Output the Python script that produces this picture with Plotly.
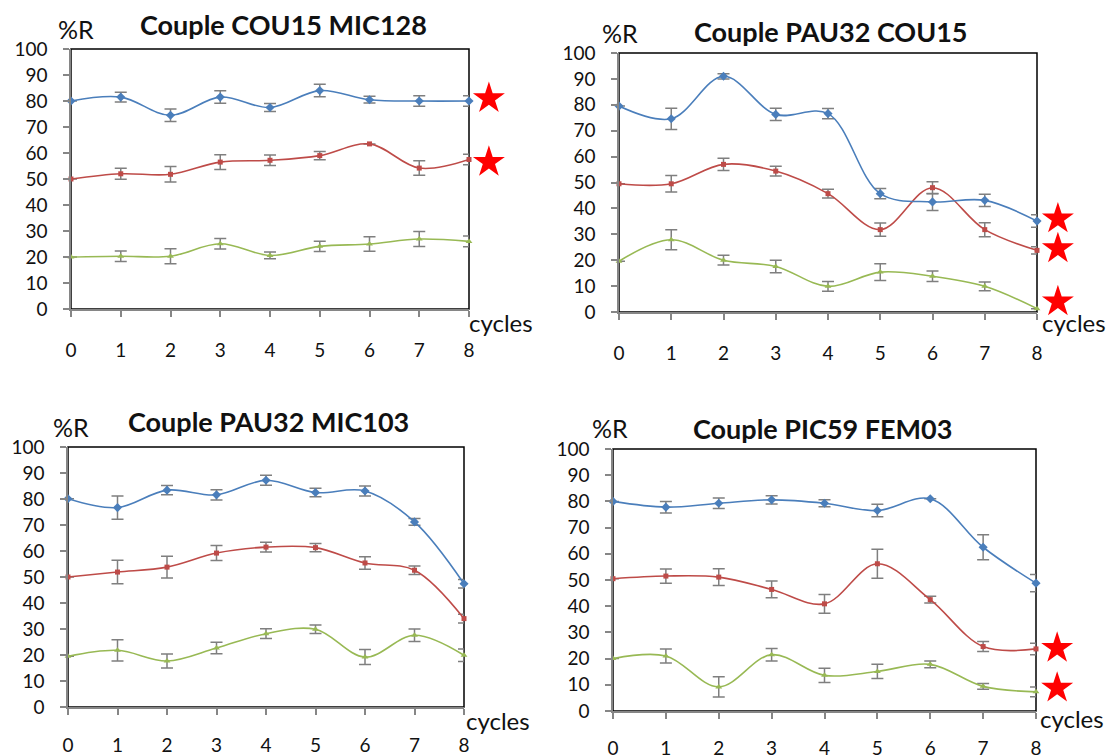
import plotly.graph_objects as go

W, H = 1115, 755

cycles = [0, 1, 2, 3, 4, 5, 6, 7, 8]
y_ticks = [0, 10, 20, 30, 40, 50, 60, 70, 80, 90, 100]

titles = ["Couple COU15 MIC128", "Couple PAU32 COU15", "Couple PAU32 MIC103", "Couple PIC59 FEM03"]

# Panel 1: COU15 MIC128
p1_blue = [80, 81.5, 74.5, 81.5, 77.5, 84, 80.5, 80, 80]
p1_blue_err = [0, 1.9, 2.4, 2.4, 1.5, 2.4, 1.3, 2, 2]
p1_red = [50, 52, 51.8, 56.5, 57.2, 59, 63.5, 54.2, 57.5]
p1_red_err = [0, 2.1, 3, 2.8, 2, 1.6, 0, 2.8, 2]
p1_green = [20, 20.3, 20.3, 25.1, 20.6, 24.1, 25, 26.9, 26]
p1_green_err = [0, 2, 2.9, 2, 1.3, 2, 2.8, 2.9, 2.1]
p1_stars = [81, 56.5]

# Panel 2: PAU32 COU15
p2_blue = [79.5, 74.6, 91, 76.3, 76.6, 45.7, 42.5, 43.1, 35.1]
p2_blue_err = [0, 4.1, 1, 2.4, 2, 2, 3.3, 2.4, 2.4]
p2_red = [49.5, 49.5, 57, 54.4, 45.7, 31.8, 48, 31.8, 23.8]
p2_red_err = [0, 3.2, 2.4, 1.9, 1.7, 2.6, 2.3, 2.7, 1.4]
p2_green = [19.6, 27.9, 20, 17.6, 9.9, 15.4, 13.8, 9.9, 1.3]
p2_green_err = [0, 3.9, 1.9, 2.4, 1.9, 3.2, 2, 1.7, 0]
p2_stars = [36, 24.5, 4]

# Panel 3: PAU32 MIC103
p3_blue = [80.1, 76.7, 83.4, 81.6, 87.2, 82.5, 83.1, 71.2, 47.4]
p3_blue_err = [0, 4.5, 1.8, 2, 1.9, 1.6, 1.9, 1.3, 1.6]
p3_red = [50, 51.9, 53.8, 59.2, 61.5, 61.3, 55.4, 52.6, 34]
p3_red_err = [0, 4.5, 4.2, 2.9, 1.9, 1.6, 2.4, 1.6, 1.7]
p3_green = [19.5, 21.8, 17.7, 22.7, 28.2, 29.9, 19.2, 27.6, 19.9]
p3_green_err = [0, 4.1, 2.7, 2.2, 1.9, 1.6, 2.9, 2.4, 2.4]
p3_stars = []

# Panel 4: PIC59 FEM03
p4_blue = [80, 77.8, 79.3, 80.6, 79.3, 76.5, 81, 62.5, 48.8]
p4_blue_err = [0, 2.2, 2, 1.6, 1.3, 2.4, 0, 4.8, 3.3]
p4_red = [50.5, 51.5, 51.1, 46.4, 40.9, 56.2, 42.5, 24.6, 23.7]
p4_red_err = [0, 2.7, 3.2, 3.2, 3.6, 5.5, 1.3, 1.9, 2.2]
p4_green = [20, 21, 9.2, 21.5, 13.6, 15.1, 17.8, 9.4, 7.3]
p4_green_err = [0, 2.7, 3.9, 2.4, 2.7, 2.7, 1.3, 1.1, 1.9]
p4_stars = [24, 8.8]

panels = [
    (p1_blue, p1_blue_err, p1_red, p1_red_err, p1_green, p1_green_err, p1_stars),
    (p2_blue, p2_blue_err, p2_red, p2_red_err, p2_green, p2_green_err, p2_stars),
    (p3_blue, p3_blue_err, p3_red, p3_red_err, p3_green, p3_green_err, p3_stars),
    (p4_blue, p4_blue_err, p4_red, p4_red_err, p4_green, p4_green_err, p4_stars),
]

# pixel boxes: (left, right, top, bottom)
boxes = [(71, 469, 49, 309), (619, 1037, 53, 312), (68, 464, 447, 707), (613, 1036, 449, 711)]
title_pos = [(283, 25), (831, 32), (268, 422), (822, 428)]
r_pos = [(76, 29), (620, 33), (71, 427), (610, 428)]
cycles_pos = [(467, 322), (1040, 322), (464, 720), (1038, 718)]
x_standoff = [17, 17, 14, 13]
star_offset = 0.4
EXTRA = 60  # px of extra room for the star axis

BLUE, RED, GREEN = "#4A7EBB", "#BE4B48", "#98B954"
ERR = "#7F7F7F"
FONT = "Lato"
TXT = "#111111"

fig = go.Figure()
layout = dict(width=W, height=H, margin=dict(l=0, r=0, t=0, b=0),
              paper_bgcolor="white", plot_bgcolor="rgba(0,0,0,0)", showlegend=False,
              font=dict(family=FONT, color=TXT))
shapes, annotations = [], []

def px(x):
    return x / W

def py(y):
    return 1 - y / H

for i, (pdata, box) in enumerate(zip(panels, boxes)):
    b, be, r, re_, g, ge, stars = pdata
    n = "" if i == 0 else str(i + 1)
    xa, ya = "x" + n, "y" + n
    L, R, T, B = box
    for vals, errs, col, sym, sz in [(g, ge, GREEN, "triangle-up", 6),
                                     (r, re_, RED, "square", 5),
                                     (b, be, BLUE, "diamond", 7)]:
        fig.add_trace(go.Scatter(
            x=cycles, y=vals, xaxis=xa, yaxis=ya, mode="lines+markers",
            line=dict(color=col, width=1.6, shape="spline", smoothing=1.0),
            marker=dict(color=col, symbol=sym, size=sz),
            error_y=dict(type="data", array=errs, visible=True, color=ERR, thickness=1.5, width=6),
            cliponaxis=False))
    if stars:
        sn = str(i + 5)
        fig.add_trace(go.Scatter(
            x=[cycles[-1] + star_offset] * len(stars), y=stars, xaxis="x" + sn, yaxis=ya,
            mode="markers", marker=dict(symbol="star", size=24, color="#FF0000"),
            cliponaxis=False))
        span = cycles[-1] - cycles[0]
        layout["xaxis" + sn] = dict(domain=[px(L), px(R + EXTRA)],
                                    range=[cycles[0], cycles[-1] + span * EXTRA / (R - L)],
                                    anchor=ya, visible=False, automargin=False,
                                    showgrid=False, zeroline=False)
    layout["xaxis" + n] = dict(domain=[px(L), px(R)], range=[0, 8], anchor=ya, automargin=False,
                               tickvals=cycles, ticks="outside", ticklen=6, tickcolor="#868686",
                               tickwidth=1.5,
                               showline=True, linecolor="#868686", linewidth=1.5,
                               showgrid=False, zeroline=False, ticklabelstandoff=x_standoff[i],
                               tickfont=dict(size=19, family=FONT, color=TXT))
    layout["yaxis" + n] = dict(domain=[py(B), py(T)], range=[0, 100], anchor=xa, automargin=False,
                               tickvals=y_ticks, ticks="outside", ticklen=6, tickcolor="#868686",
                               tickwidth=1.5,
                               showline=True, linecolor="#868686", linewidth=1.5,
                               showgrid=False, zeroline=False, ticklabelstandoff=12,
                               tickfont=dict(size=19, family=FONT, color=TXT))
    shapes.append(dict(type="rect", xref="paper", yref="paper", x0=px(L), x1=px(R),
                       y0=py(B), y1=py(T), line=dict(color="black", width=1.5), layer="below"))
    tx, ty = title_pos[i]
    annotations.append(dict(text="<b>" + titles[i] + "</b>", x=px(tx), y=py(ty), xref="paper", yref="paper",
                            showarrow=False, xanchor="center", yanchor="middle",
                            font=dict(size=27, family=FONT, color=TXT)))
    rx, ry = r_pos[i]
    annotations.append(dict(text="%R", x=px(rx), y=py(ry), xref="paper", yref="paper",
                            showarrow=False, xanchor="center", yanchor="middle",
                            font=dict(size=25, family=FONT, color=TXT)))
    cx, cy = cycles_pos[i]
    annotations.append(dict(text="cycles", x=px(cx), y=py(cy), xref="paper", yref="paper",
                            showarrow=False, xanchor="left", yanchor="middle",
                            font=dict(size=24, family=FONT, color=TXT)))

layout["shapes"] = shapes
layout["annotations"] = annotations
fig.update_layout(**layout)
fig.write_html("out.html", config={"displayModeBar": False},
               post_script="document.body.style.margin='0px';")
